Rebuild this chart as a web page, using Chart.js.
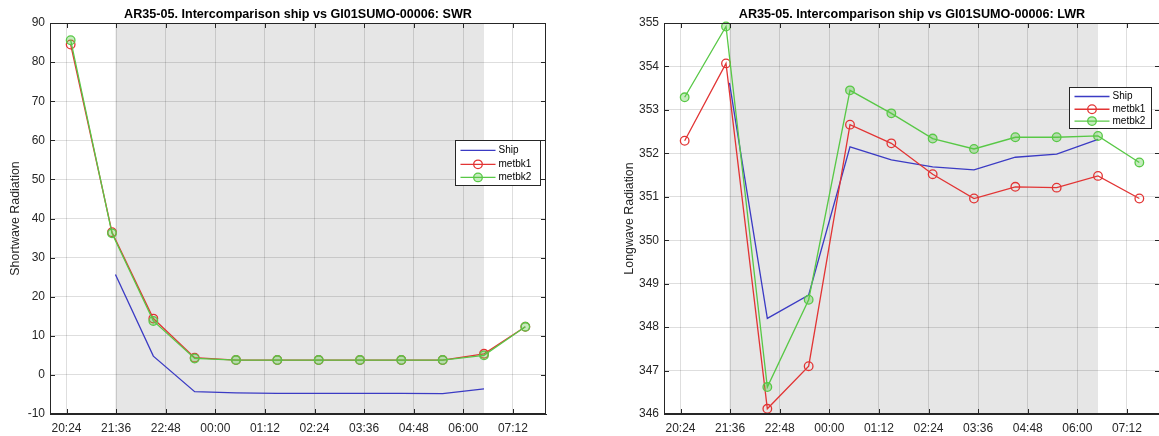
<!DOCTYPE html>
<html>
<head>
<meta charset="utf-8">
<title>AR35-05 ship vs GI01SUMO-00006</title>
<script src="https://cdn.jsdelivr.net/npm/chart.js@4.4.1/dist/chart.umd.min.js"></script>
<style>
  html, body { margin: 0; padding: 0; background: #fff; overflow: hidden; }
  #wrap { position: relative; width: 1159px; height: 436px; }
  canvas { position: absolute; top: 0; }
  #swr { left: 0; }
  #lwr { left: 614px; }
</style>
</head>
<body>
<div id="wrap">
  <canvas id="swr" width="547" height="436"></canvas>
  <canvas id="lwr" width="547" height="436"></canvas>
</div>
<script>
// times are minutes after midnight of the first day (20:30 -> 1230, 00:30 -> 1470)
const metbkTimes = [1230, 1290, 1350, 1410, 1470, 1530, 1590, 1650, 1710, 1770, 1830, 1890];
const shipTimes  = [1295, 1350, 1410, 1470, 1530, 1590, 1650, 1710, 1770, 1830];

const tickTimes  = [1224, 1296, 1368, 1440, 1512, 1584, 1656, 1728, 1800, 1872];
const tickLabels = ['20:24', '21:36', '22:48', '00:00', '01:12', '02:24', '03:36', '04:48', '06:00', '07:12'];

// shortwave radiation
const swrShip   = [25.7, 4.8, -4.3, -4.6, -4.7, -4.7, -4.7, -4.7, -4.8, -3.6];
const swrMetbk1 = [84.5, 36.5, 14.4, 4.4, 3.8, 3.8, 3.8, 3.8, 3.8, 3.8, 5.4, 12.3];
const swrMetbk2 = [85.6, 36.2, 13.8, 4.2, 3.8, 3.8, 3.8, 3.8, 3.8, 3.8, 5.0, 12.3];

// longwave radiation
const lwrShip   = [353.62, 348.20, 348.74, 352.15, 351.85, 351.69, 351.62, 351.91, 351.98, 352.32];
const lwrMetbk1 = [352.29, 354.07, 346.12, 347.10, 352.66, 352.23, 351.52, 350.96, 351.23, 351.21, 351.48, 350.96];
const lwrMetbk2 = [353.29, 354.92, 346.62, 348.63, 353.45, 352.92, 352.34, 352.10, 352.37, 352.37, 352.40, 351.79];

const seriesNames = ['Ship', 'metbk1', 'metbk2'];

const SHIP_COLOR = '#3b3bc4';
const MB1_COLOR = '#e23434';
const MB2_COLOR = '#58c846';
const MB2_FILL = 'rgba(88, 200, 70, 0.35)';
const AXIS_COLOR = '#262626';
const GRID_COLOR = 'rgba(0, 0, 0, 0.13)';
const SHADE_COLOR = '#e6e6e6';
const FONT = '"Liberation Sans", Arial, Helvetica, sans-serif';

Chart.defaults.font.family = FONT;
Chart.defaults.color = AXIS_COLOR;

const toPoints = (times, values) => times.map((t, i) => ({ x: t, y: values[i] }));

// matlab-like axes: shaded ship span, boxed frame with inward ticks, title and legend
const matlabAxes = {
  id: 'matlabAxes',
  beforeDraw(chart, args, opts) {
    const { ctx, chartArea: a, scales: { x } } = chart;
    const x0 = x.getPixelForValue(opts.shadeFrom);
    const x1 = x.getPixelForValue(opts.shadeTo);
    ctx.save();
    ctx.fillStyle = SHADE_COLOR;
    ctx.fillRect(x0, a.top, x1 - x0, a.bottom - a.top);
    ctx.restore();
  },
  afterDatasetsDraw(chart, args, opts) {
    const { ctx, chartArea: a, scales: { x, y } } = chart;
    ctx.save();

    // frame
    ctx.strokeStyle = AXIS_COLOR;
    ctx.lineWidth = 1;
    ctx.strokeRect(Math.round(a.left) + 0.5, Math.round(a.top) + 0.5,
      Math.round(a.right - a.left) - 1, Math.round(a.bottom - a.top) - 1);

    // inward tick marks on all four sides
    const tl = 5;
    ctx.beginPath();
    x.ticks.forEach(t => {
      const px = Math.round(x.getPixelForValue(t.value)) + 0.5;
      ctx.moveTo(px, a.bottom); ctx.lineTo(px, a.bottom - tl);
      ctx.moveTo(px, a.top); ctx.lineTo(px, a.top + tl);
    });
    y.ticks.forEach(t => {
      const py = Math.round(y.getPixelForValue(t.value)) + 0.5;
      ctx.moveTo(a.left, py); ctx.lineTo(a.left + tl, py);
      ctx.moveTo(a.right, py); ctx.lineTo(a.right - tl, py);
    });
    ctx.stroke();
    ctx.restore();
  },
  afterDraw(chart, args, opts) {
    const { ctx, chartArea: a } = chart;
    ctx.save();

    // title, centred over the plot area
    ctx.fillStyle = '#000';
    ctx.font = 'bold 12.6px ' + FONT;
    ctx.textAlign = 'center';
    ctx.textBaseline = 'middle';
    ctx.fillText(opts.title, (a.left + a.right) / 2, 14.5);

    // legend box
    const lg = opts.legend;
    const bx = Math.round(a.right - lg.right - lg.width) + 0.5;
    const by = Math.round(a.top + lg.top) + 0.5;
    ctx.fillStyle = '#fff';
    ctx.fillRect(bx, by, lg.width, lg.height);
    ctx.strokeStyle = AXIS_COLOR;
    ctx.lineWidth = 1;
    ctx.strokeRect(bx, by, lg.width, lg.height);

    const rows = [0.22, 0.53, 0.82];
    ctx.font = '10px ' + FONT;
    ctx.textAlign = 'left';
    chart.data.datasets.forEach((ds, i) => {
      const ry = by + lg.height * rows[i];
      const lx0 = bx + 5, lx1 = bx + 40;
      ctx.strokeStyle = ds.borderColor;
      ctx.lineWidth = 1.3;
      ctx.beginPath();
      ctx.moveTo(lx0, ry); ctx.lineTo(lx1, ry);
      ctx.stroke();
      if (ds.pointRadius > 0) {
        ctx.beginPath();
        ctx.arc((lx0 + lx1) / 2, ry, ds.pointRadius, 0, Math.PI * 2);
        ctx.fillStyle = ds.pointBackgroundColor;
        ctx.fill();
        ctx.stroke();
      }
      ctx.fillStyle = '#000';
      ctx.fillText(ds.label, bx + 43, ry);
    });

    ctx.restore();
  }
};

function makeChart(id, cfg) {
  const line = (label, times, values, color, fill, radius, order) => ({
    label: label,
    data: toPoints(times, values),
    borderColor: color,
    borderWidth: 1.3,
    pointRadius: radius,
    pointHoverRadius: radius,
    pointBorderWidth: 1.3,
    pointBorderColor: color,
    pointBackgroundColor: fill,
    tension: 0,
    clip: false,
    order: order
  });

  return new Chart(document.getElementById(id), {
    type: 'line',
    data: {
      datasets: [
        line(seriesNames[0], shipTimes, cfg.ship, SHIP_COLOR, 'transparent', 0, 3),
        line(seriesNames[1], metbkTimes, cfg.metbk1, MB1_COLOR, 'transparent', 4.3, 2),
        line(seriesNames[2], metbkTimes, cfg.metbk2, MB2_COLOR, MB2_FILL, 4.3, 1)
      ]
    },
    options: {
      responsive: false,
      animation: false,
      layout: { autoPadding: false, padding: { top: 23, right: 1, left: 0, bottom: 0 } },
      plugins: {
        legend: { display: false },
        tooltip: { enabled: false },
        matlabAxes: {
          title: cfg.title,
          shadeFrom: shipTimes[0],
          shadeTo: shipTimes[shipTimes.length - 1],
          legend: cfg.legend
        }
      },
      scales: {
        x: {
          type: 'linear',
          min: 1200,
          max: 1920,
          afterBuildTicks: s => { s.ticks = tickTimes.map(v => ({ value: v })); },
          afterFit: s => {
            s.height = 22;
            s.paddingLeft = 0;
            s.paddingRight = 0;
          },
          ticks: {
            autoSkip: false,
            maxRotation: 0,
            padding: 7,
            color: AXIS_COLOR,
            font: { size: 12 },
            callback: (v, i) => tickLabels[i]
          },
          grid: { color: GRID_COLOR, drawTicks: false },
          border: { color: AXIS_COLOR, width: 1 }
        },
        y: {
          min: cfg.yMin,
          max: cfg.yMax,
          afterFit: s => {
            s.width = 50;
            s.paddingTop = 0;
            s.paddingBottom = 0;
          },
          ticks: {
            stepSize: cfg.yStep,
            padding: 5,
            color: AXIS_COLOR,
            font: { size: 12 }
          },
          title: {
            display: true,
            text: cfg.yTitle,
            color: AXIS_COLOR,
            font: { size: 12.4 },
            padding: { top: 8, bottom: 0 }
          },
          grid: { color: GRID_COLOR, drawTicks: false },
          border: { color: AXIS_COLOR, width: 1 }
        }
      }
    },
    plugins: [matlabAxes]
  });
}

makeChart('swr', {
  title: 'AR35-05. Intercomparison ship vs GI01SUMO-00006: SWR',
  yTitle: 'Shortwave Radiation',
  yMin: -10, yMax: 90, yStep: 10,
  ship: swrShip, metbk1: swrMetbk1, metbk2: swrMetbk2,
  legend: { right: 6, top: 117, width: 85, height: 45 }
});

makeChart('lwr', {
  title: 'AR35-05. Intercomparison ship vs GI01SUMO-00006: LWR',
  yTitle: 'Longwave Radiation',
  yMin: 346, yMax: 355, yStep: 1,
  ship: lwrShip, metbk1: lwrMetbk1, metbk2: lwrMetbk2,
  legend: { right: 9, top: 64, width: 82, height: 41 }
});
</script>
</body>
</html>
